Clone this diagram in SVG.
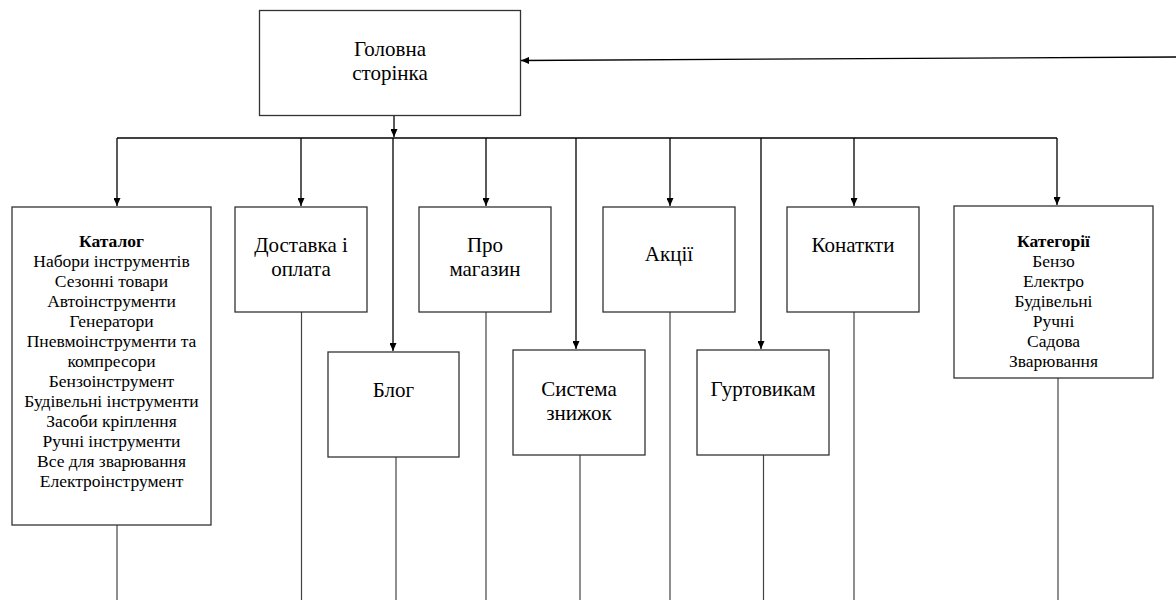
<svg xmlns="http://www.w3.org/2000/svg" width="1176" height="600" viewBox="0 0 1176 600">
<style>
.box{fill:#fff;stroke:#333;stroke-width:1.3}
.t{font-family:"Liberation Serif","Times New Roman",serif;font-size:21px;fill:#000;text-anchor:middle}
.s{font-family:"Liberation Serif","Times New Roman",serif;font-size:17.5px;fill:#000;text-anchor:middle}
.b{font-weight:bold}
.c{fill:none;stroke:#000;stroke-width:1.3}
.d{fill:none;stroke:#444;stroke-width:1.2}
</style>
<defs>
<marker id="ah" markerWidth="8" markerHeight="7" refX="8" refY="3.5" orient="auto" markerUnits="userSpaceOnUse">
<path d="M0,0 L8,3.5 L0,7 z" fill="#000"/>
</marker>
</defs>
<rect width="1176" height="600" fill="#fff"/>
<g id="connectors">
<line class="c" x1="1176" y1="57" x2="521" y2="60.5" marker-end="url(#ah)"/>
<line class="c" x1="394" y1="115" x2="394" y2="137" marker-end="url(#ah)"/>
<line class="c" x1="117" y1="138" x2="1057" y2="138"/>
<line class="c" x1="117" y1="138" x2="117" y2="206" marker-end="url(#ah)"/>
<line class="c" x1="301" y1="138" x2="301" y2="206" marker-end="url(#ah)"/>
<line class="c" x1="393" y1="138" x2="393" y2="351" marker-end="url(#ah)"/>
<line class="c" x1="486" y1="138" x2="486" y2="206" marker-end="url(#ah)"/>
<line class="c" x1="576" y1="138" x2="576" y2="349" marker-end="url(#ah)"/>
<line class="c" x1="670" y1="138" x2="670" y2="206" marker-end="url(#ah)"/>
<line class="c" x1="761" y1="138" x2="761" y2="349" marker-end="url(#ah)"/>
<line class="c" x1="854" y1="138" x2="854" y2="206" marker-end="url(#ah)"/>
<line class="c" x1="1057" y1="138" x2="1057" y2="205" marker-end="url(#ah)"/>
<line class="d" x1="117" y1="525" x2="117" y2="600"/>
<line class="d" x1="301.5" y1="312" x2="301.5" y2="600"/>
<line class="d" x1="396" y1="457" x2="396" y2="600"/>
<line class="d" x1="486" y1="312" x2="486" y2="600"/>
<line class="d" x1="580" y1="455" x2="580" y2="600"/>
<line class="d" x1="670" y1="312" x2="670" y2="600"/>
<line class="d" x1="763.5" y1="455" x2="763.5" y2="600"/>
<line class="d" x1="854" y1="312" x2="854" y2="600"/>
<line class="d" x1="1058" y1="378" x2="1058" y2="600"/>
</g>
<g id="home">
<rect class="box" x="259.5" y="10.5" width="261" height="105"/>
<text class="t" x="390" y="56">Головна</text>
<text class="t" x="390" y="80">сторінка</text>
</g>
<g id="catalog">
<rect class="box" x="12" y="207" width="199" height="318"/>
<text class="s" x="111.5" y="247"><tspan class="b">Каталог</tspan><tspan x="111.5" dy="20">Набори інструментів</tspan><tspan x="111.5" dy="20">Сезонні товари</tspan><tspan x="111.5" dy="20">Автоінструменти</tspan><tspan x="111.5" dy="20">Генератори</tspan><tspan x="111.5" dy="20">Пневмоінструменти та</tspan><tspan x="111.5" dy="20">компресори</tspan><tspan x="111.5" dy="20">Бензоінструмент</tspan><tspan x="111.5" dy="20">Будівельні інструменти</tspan><tspan x="111.5" dy="20">Засоби кріплення</tspan><tspan x="111.5" dy="20">Ручні інструменти</tspan><tspan x="111.5" dy="20">Все для зварювання</tspan><tspan x="111.5" dy="20">Електроінструмент</tspan></text>
</g>
<g id="delivery">
<rect class="box" x="235" y="207" width="132" height="105"/>
<text class="t" x="301" y="252">Доставка і</text>
<text class="t" x="301" y="276">оплата</text>
</g>
<g id="blog">
<rect class="box" x="328" y="352" width="131" height="105"/>
<text class="t" x="393.5" y="397">Блог</text>
</g>
<g id="about">
<rect class="box" x="419" y="207" width="132" height="105"/>
<text class="t" x="485" y="252">Про</text>
<text class="t" x="485" y="276">магазин</text>
</g>
<g id="discounts">
<rect class="box" x="513" y="350" width="132" height="105"/>
<text class="t" x="579" y="396">Система</text>
<text class="t" x="579" y="420">знижок</text>
</g>
<g id="promo">
<rect class="box" x="603" y="207" width="132" height="105"/>
<text class="t" x="669" y="261">Акції</text>
</g>
<g id="wholesale">
<rect class="box" x="697" y="350" width="132" height="105"/>
<text class="t" x="763" y="396">Гуртовикам</text>
</g>
<g id="contacts">
<rect class="box" x="787" y="207" width="132" height="105"/>
<text class="t" x="853" y="252">Конаткти</text>
</g>
<g id="categories">
<rect class="box" x="954" y="206" width="199" height="172"/>
<text class="s" x="1053.5" y="247"><tspan class="b">Категорії</tspan><tspan x="1053.5" dy="20">Бензо</tspan><tspan x="1053.5" dy="20">Електро</tspan><tspan x="1053.5" dy="20">Будівельні</tspan><tspan x="1053.5" dy="20">Ручні</tspan><tspan x="1053.5" dy="20">Садова</tspan><tspan x="1053.5" dy="20">Зварювання</tspan></text>
</g>
</svg>
